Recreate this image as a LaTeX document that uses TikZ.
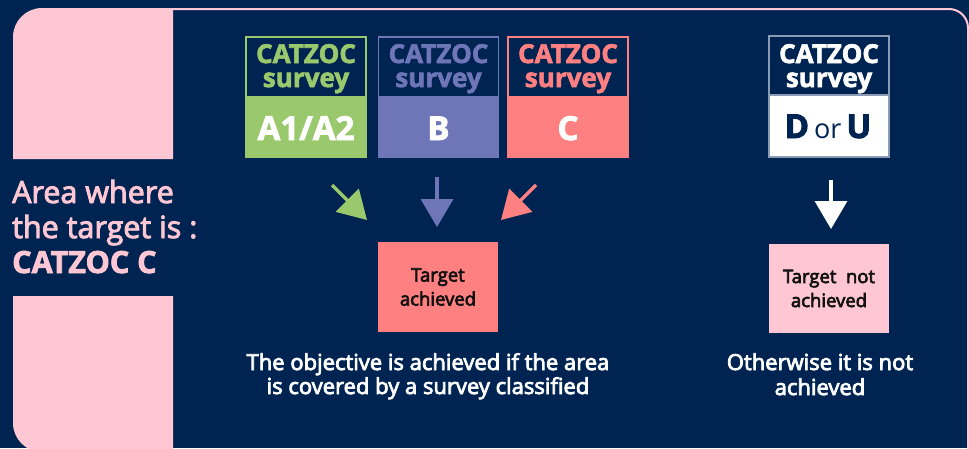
\documentclass[tikz,border=0pt]{standalone}
\usepackage{fontspec}
\setmainfont{Open Sans}[BoldFeatures={FakeBold=2.5}]
\newfontfamily\semib{Open Sans}[FakeBold=3.5]
\newfontfamily\semibb{Open Sans}[FakeBold=3,BoldFeatures={FakeBold=2.5}]
\usetikzlibrary{arrows.meta}
\definecolor{navy}{HTML}{002452}
\definecolor{pinkc}{HTML}{FFC7D3}
\definecolor{greenc}{HTML}{9AC86C}
\definecolor{bluec}{HTML}{6E76B8}
\definecolor{redc}{HTML}{FF8080}
\definecolor{grayc}{HTML}{8C9BB4}
\definecolor{inkc}{HTML}{111111}
\newcommand\catzfont{\bfseries\fontsize{26}{26}\selectfont}
\newcommand\gradefont{\bfseries\fontsize{33}{33}\selectfont}
\newcommand\orfont{\fontsize{27}{27}\selectfont}
\newcommand\leftfont{\semibb\fontsize{30.5}{35}\selectfont}
\newcommand\boxfont{\semib\fontsize{18.5}{24}\selectfont}
\newcommand\notefont{\semib\fontsize{22}{24}\selectfont}
\tikzset{
  halfbox/.style={rectangle, minimum width=120pt, minimum height=60pt, inner sep=0pt, line width=1.2pt},
  lbl/.style={anchor=base, inner sep=0pt},
  bigarrow/.style={line width=3.5pt, -{Triangle[width=32pt,length=28pt]}},
  result/.style={rectangle, minimum width=120pt, minimum height=90pt, inner sep=0pt, text=inkc, font=\boxfont, align=center}
}
\begin{document}
\begin{tikzpicture}[x=1pt,y=-1pt]
\useasboundingbox (0,0) rectangle (969,448);
\clip (0,0) rectangle (969,448);
\fill[navy] (0,0) rectangle (969,448);
% frame
\draw[pinkc, line width=2pt, rounded corners=19pt] (173,9) -- (968,9) -- (968,520);
\fill[pinkc] (173,159) -- (13,159) -- (13,37) .. controls (13,21) and (26,8) .. (42,8) -- (173,8) -- cycle;
\fill[pinkc] (173,296) -- (13,296) -- (13,423) .. controls (13,439) and (26,452) .. (42,452) -- (173,452) -- cycle;
% left text
\node[lbl, anchor=base west, text=pinkc, font=\leftfont] (l1) at (12,203) {Area where};
\node[lbl, anchor=base west, text=pinkc, font=\leftfont] (l2) at (12,238) {the target is :};
\node[lbl, anchor=base west, text=pinkc, font=\leftfont\bfseries] (l3) at (12,273) {CATZOC C};
% survey A
\node[halfbox, draw=greenc, fill=navy] (atop) at (306,67) {};
\node[halfbox, draw=greenc, fill=greenc] (abot) at (306,127) {};
\node[lbl, text=greenc, font=\catzfont] (a1) at (306,63) {CATZOC};
\node[lbl, text=greenc, font=\catzfont] (a2) at (306,87) {survey};
\node[lbl, text=white, font=\gradefont] (a3) at (306,140) {A1/A2};
% survey B
\node[halfbox, draw=bluec, fill=navy] (btop) at (438.5,67) {};
\node[halfbox, draw=bluec, fill=bluec] (bbot) at (438.5,127) {};
\node[lbl, text=bluec, font=\catzfont] (b1) at (438.5,63) {CATZOC};
\node[lbl, text=bluec, font=\catzfont] (b2) at (438.5,87) {survey};
\node[lbl, text=white, font=\gradefont] (b3) at (438.5,140) {B};
% survey C
\node[halfbox, draw=redc, fill=navy] (ctop) at (568,67) {};
\node[halfbox, draw=redc, fill=redc] (cbot) at (568,127) {};
\node[lbl, text=redc, font=\catzfont] (c1) at (568,63) {CATZOC};
\node[lbl, text=redc, font=\catzfont] (c2) at (568,87) {survey};
\node[lbl, text=white, font=\gradefont] (c3) at (568,140) {C};
% survey D or U
\node[halfbox, draw=grayc, fill=navy, minimum height=59pt] (dtop) at (829,65.5) {};
\node[halfbox, draw=grayc, fill=white, minimum height=62pt] (dbot) at (829,126) {};
\node[lbl, text=white, font=\catzfont] (d1) at (829,63) {CATZOC};
\node[lbl, text=white, font=\catzfont] (d2) at (829,87) {survey};
\node[lbl, text=navy] (d3) at (828,138) {{\gradefont D}\hspace{5pt}{\orfont or}\hspace{5pt}{\gradefont U}};
% results
\node[result, fill=redc] (ok) at (438,287) {Target\\achieved};
\node[result, fill=pinkc, minimum height=89pt] (nok) at (829,288.5) {Target\ \ not\\achieved};
% arrows
\coordinate (ga) at (332,185); \coordinate (gt) at (367,220);
\coordinate (ba) at (437,177); \coordinate (bt) at (437,227);
\coordinate (ra) at (536,185); \coordinate (rt) at (501,220);
\coordinate (wa) at (831,180); \coordinate (wt) at (831,229);
\draw[bigarrow, greenc] (ga) -- (gt);
\draw[bigarrow, bluec] (ba) -- (bt);
\draw[bigarrow, redc] (ra) -- (rt);
\draw[bigarrow, white] (wa) -- (wt);
% notes
\node[lbl, text=white, font=\notefont] (n1) at (428,370) {The objective is achieved if the area};
\node[lbl, text=white, font=\notefont] (n2) at (428,394) {is covered by a survey classified};
\node[lbl, text=white, font=\notefont] (m1) at (820,370) {Otherwise it is not};
\node[lbl, text=white, font=\notefont] (m2) at (820,395) {achieved};
\end{tikzpicture}
\end{document}
